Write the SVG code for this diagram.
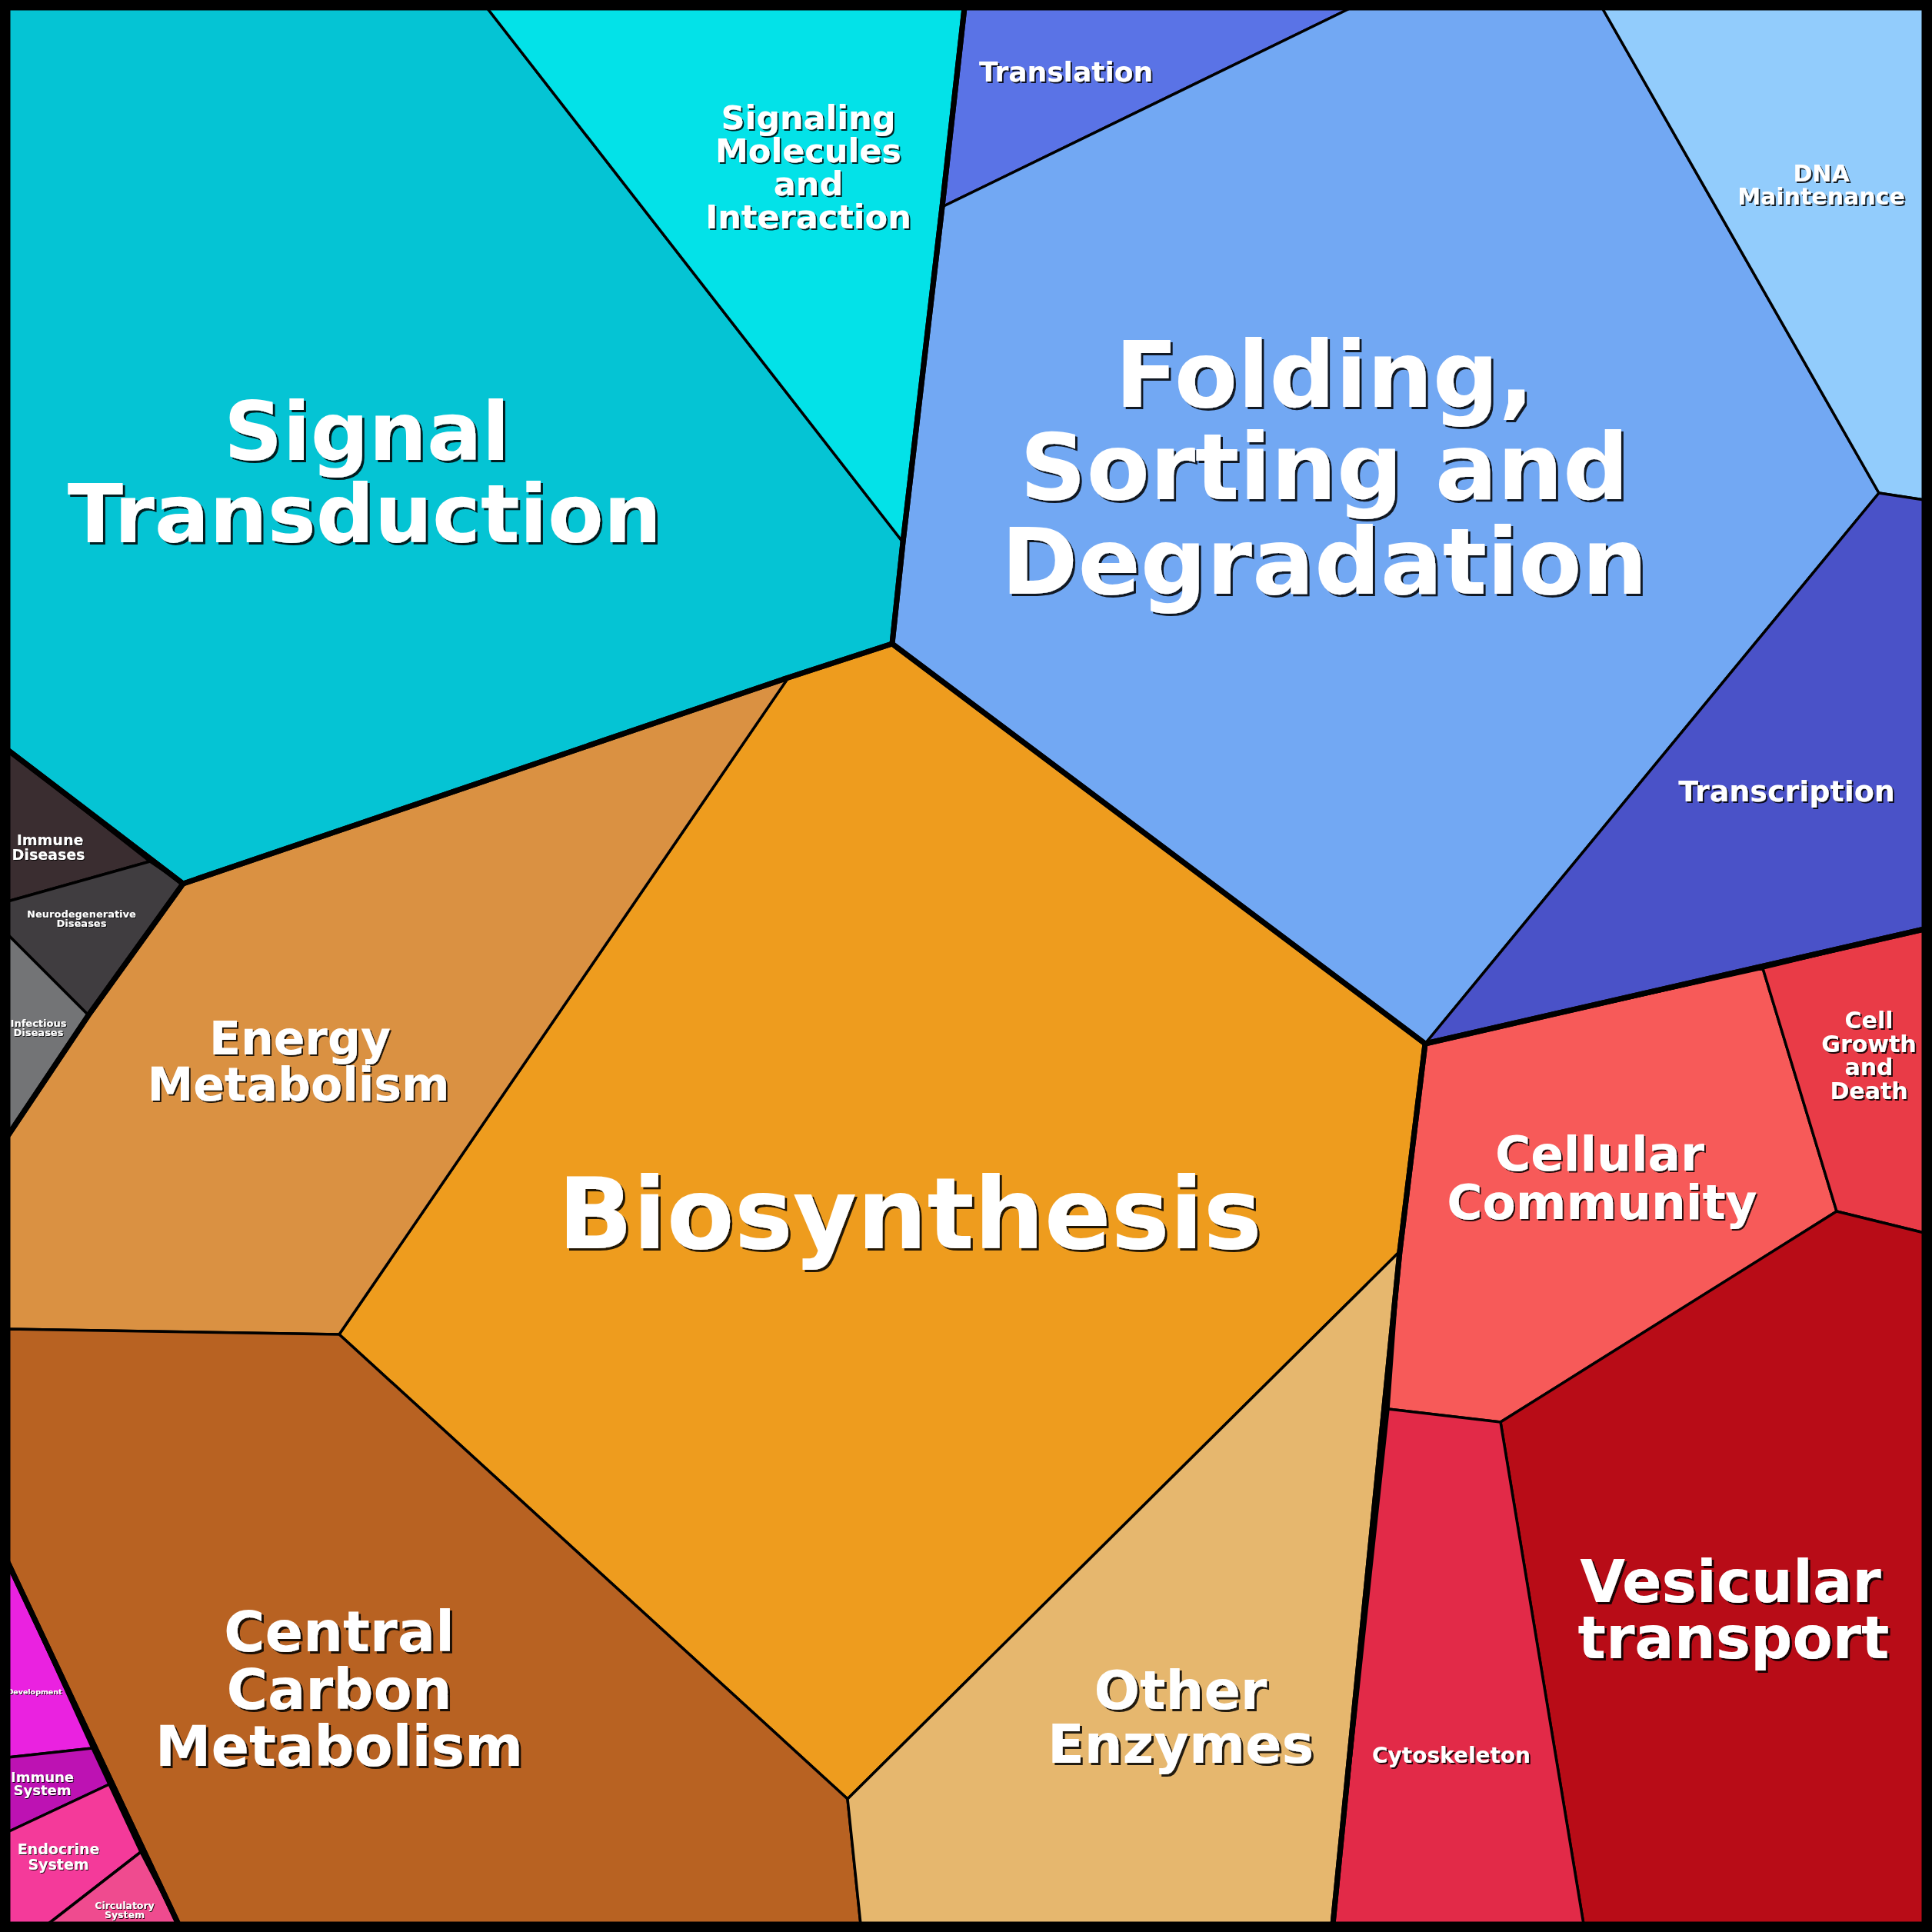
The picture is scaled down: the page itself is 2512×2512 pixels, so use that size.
<svg xmlns="http://www.w3.org/2000/svg" width="2512" height="2512" viewBox="0 0 2512 2512">
<style>
.cell{stroke:#000;stroke-width:3.5;stroke-linejoin:round}
.grp{fill:none;stroke:#000;stroke-width:7;stroke-linejoin:round}
.ln{fill:none;stroke:#000;stroke-width:3.5;stroke-linejoin:round}
text{font-family:"DejaVu Sans","Liberation Sans",sans-serif;font-weight:bold;fill:#fff;text-anchor:middle}
.L{filter:url(#shL)}
.M{filter:url(#shM)}
.S{filter:url(#shS)}
</style>
<defs>
<filter id="shL" x="-5%" y="-5%" width="110%" height="120%"><feDropShadow dx="3" dy="3" stdDeviation="0.6" flood-color="#000" flood-opacity="0.85"/></filter>
<filter id="shM" x="-5%" y="-5%" width="110%" height="120%"><feDropShadow dx="2" dy="2" stdDeviation="0.4" flood-color="#000" flood-opacity="0.85"/></filter>
<filter id="shS" x="-5%" y="-5%" width="110%" height="130%"><feDropShadow dx="1" dy="1" stdDeviation="0.3" flood-color="#000" flood-opacity="0.85"/></filter>
</defs>
<rect x="0" y="0" width="2512" height="2512" fill="#000"/>

<g id="signal-transduction">
<polygon class="cell" fill="#05C4D4" points="10,10 633,10 1174,705 1160,837 1025,881 238,1149 10,975"/>
<text class="L" x="477" y="598" font-size="106">Signal</text>
<text class="L" x="474" y="705" font-size="106">Transduction</text>
</g>
<g id="signaling-molecules">
<polygon class="cell" fill="#03E2E8" points="633,10 1254,10 1225,269 1174,705"/>
<text class="M" x="1051" y="168" font-size="43">Signaling</text>
<text class="M" x="1051" y="211" font-size="43">Molecules</text>
<text class="M" x="1051" y="254" font-size="43">and</text>
<text class="M" x="1051" y="297" font-size="43">Interaction</text>
</g>
<g id="translation">
<polygon class="cell" fill="#5A73E6" points="1254,10 1757,10 1225,269"/>
<text class="M" x="1386" y="106" font-size="36">Translation</text>
</g>
<g id="folding">
<polygon class="cell" fill="#72A8F3" points="1225,269 1757,10 2083,10 2443,641 1853,1357 1160,837 1174,705"/>
<text class="L" x="1722" y="529" font-size="120">Folding,</text>
<text class="L" x="1722" y="649" font-size="120">Sorting and</text>
<text class="L" x="1722" y="772" font-size="120">Degradation</text>
</g>
<g id="dna-maintenance">
<polygon class="cell" fill="#92CCFC" points="2083,10 2502,10 2502,650 2443,641"/>
<text class="M" x="2368" y="236" font-size="30">DNA</text>
<text class="M" x="2368" y="266" font-size="30">Maintenance</text>
</g>
<g id="transcription">
<polygon class="cell" fill="#4A52C8" points="2443,641 2502,650 2502,1208 1853,1357"/>
<text class="M" x="2323" y="1042" font-size="38">Transcription</text>
</g>
<g id="biosynthesis">
<polygon class="cell" fill="#EE9C1E" points="1160,837 1853,1357 1820,1627 1102,2339 441,1735 1025,881"/>
<text class="L" x="1183" y="1623" font-size="128">Biosynthesis</text>
</g>
<g id="energy-metabolism">
<polygon class="cell" fill="#DA9142" points="1025,881 441,1735 10,1728 10,1477 115,1320 238,1149"/>
<text class="M" x="390" y="1371" font-size="60">Energy</text>
<text class="M" x="388" y="1431" font-size="60">Metabolism</text>
</g>
<g id="central-carbon-metabolism">
<polygon class="cell" fill="#B86222" points="10,1728 441,1735 1102,2339 1119,2502 232,2502 10,2031"/>
<text class="L" x="441" y="2147" font-size="73">Central</text>
<text class="L" x="441" y="2222" font-size="73">Carbon</text>
<text class="L" x="441" y="2296" font-size="73">Metabolism</text>
</g>
<g id="other-enzymes">
<polygon class="cell" fill="#E6B76E" points="1102,2339 1820,1627 1733,2502 1119,2502"/>
<text class="L" x="1535" y="2222" font-size="70">Other</text>
<text class="L" x="1535" y="2292" font-size="70">Enzymes</text>
</g>
<g id="cellular-community">
<polygon class="cell" fill="#F75A59" points="1853,1357 2292,1259 2388,1575 1951,1849 1805,1832 1820,1627"/>
<text class="M" x="2080" y="1522" font-size="63">Cellular</text>
<text class="M" x="2083" y="1585" font-size="63">Community</text>
</g>
<g id="cell-growth-and-death">
<polygon class="cell" fill="#E93B47" points="2292,1259 2502,1208 2502,1603 2388,1575"/>
<text class="M" x="2430" y="1337" font-size="30">Cell</text>
<text class="M" x="2430" y="1368" font-size="30">Growth</text>
<text class="M" x="2430" y="1398" font-size="30">and</text>
<text class="M" x="2430" y="1429" font-size="30">Death</text>
</g>
<g id="vesicular-transport">
<polygon class="cell" fill="#B80C17" points="2388,1575 2502,1603 2502,2502 2059,2502 1951,1849"/>
<text class="L" x="2250" y="2083" font-size="76">Vesicular</text>
<text class="L" x="2254" y="2156" font-size="76">transport</text>
</g>
<g id="cytoskeleton">
<polygon class="cell" fill="#E22A48" points="1805,1832 1951,1849 2059,2502 1733,2502"/>
<text class="M" x="1887" y="2292" font-size="28">Cytoskeleton</text>
</g>
<g id="immune-diseases">
<polygon class="cell" fill="#3A2D30" points="10,975 195,1120 10,1172"/>
<text class="S" x="65" y="1099" font-size="19">Immune</text>
<text class="S" x="63" y="1118" font-size="19">Diseases</text>
</g>
<g id="neurodegenerative-diseases">
<polygon class="cell" fill="#403D40" points="10,1172 195,1120 238,1149 115,1320 10,1215"/>
<text class="S" x="106" y="1193" font-size="13">Neurodegenerative</text>
<text class="S" x="106" y="1205" font-size="13">Diseases</text>
</g>
<g id="infectious-diseases">
<polygon class="cell" fill="#737476" points="10,1215 115,1320 10,1477"/>
<text class="S" x="50" y="1335" font-size="13">Infectious</text>
<text class="S" x="50" y="1347" font-size="13">Diseases</text>
</g>
<g id="development">
<polygon class="cell" fill="#EA22E0" points="10,2031 120,2273 10,2285"/>
<text class="S" x="45" y="2203" font-size="9.5">Development</text>
</g>
<g id="immune-system">
<polygon class="cell" fill="#BD12B3" points="10,2285 120,2273 142,2320 10,2382"/>
<text class="S" x="55" y="2317" font-size="18">Immune</text>
<text class="S" x="55" y="2334" font-size="18">System</text>
</g>
<g id="endocrine-system">
<polygon class="cell" fill="#F43A9A" points="10,2382 142,2320 183,2408 62,2502 10,2502"/>
<text class="S" x="76" y="2411" font-size="19">Endocrine</text>
<text class="S" x="76" y="2431" font-size="19">System</text>
</g>
<g id="circulatory-system">
<polygon class="cell" fill="#EF4B8F" points="183,2408 232,2502 62,2502"/>
<text class="S" x="162" y="2482" font-size="12.5">Circulatory</text>
<text class="S" x="162" y="2494" font-size="12.5">System</text>
</g>

<g id="connectors">
<polygon class="grp" points="10,10 1254,10 1225,269 1174,705 1160,837 1025,881 238,1149 10,975"/>
<polygon class="grp" points="1254,10 2502,10 2502,1208 1853,1357 1160,837 1174,705 1225,269"/>
<polygon class="grp" points="1160,837 1853,1357 1820,1627 1733,2502 232,2502 10,2031 10,1477 115,1320 238,1149 1025,881"/>
<polygon class="grp" points="1853,1357 2502,1208 2502,2502 1733,2502 1820,1627"/>
<polygon class="grp" points="10,975 238,1149 115,1320 10,1477"/>
<polygon class="grp" points="10,2031 232,2502 10,2502"/>
</g>
<rect x="6" y="6" width="2500" height="2500" fill="none" stroke="#000" stroke-width="12"/>
</svg>
